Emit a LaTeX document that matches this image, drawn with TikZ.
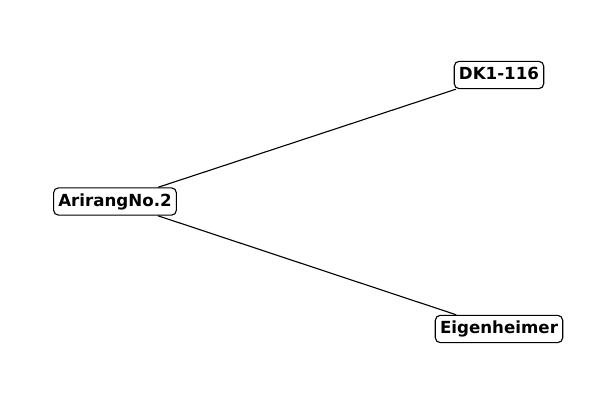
\documentclass[tikz,border=0pt]{standalone}
\usepackage{fontspec}
\setmainfont{DejaVu Sans}
\usepackage{tikz}
\tikzset{every picture/.style={x=0.72pt,y=-0.72pt,every node/.style={rectangle, rounded corners=3.6pt, draw=black, fill=white, line width=0.8pt, inner xsep=3.4pt, inner ysep=3.6pt, text height=9.6pt, text depth=2.9pt, font=\fontsize{12}{14}\selectfont\bfseries}}}

\begin{document}
\begin{tikzpicture}
        \useasboundingbox (0, 0) rectangle (600, 400);
        \node[] (arirang) at (115, 201.5) {ArirangNo.2};
        \node[] (dk) at (499, 75) {DK1-116};
        \node[] (eigen) at (499, 329) {Eigenheimer};

        \foreach \from/\to in {
          arirang/dk, arirang/eigen}
        \draw[line width=0.8pt] (\from) -- (\to);
      \end{tikzpicture}
\end{document}
